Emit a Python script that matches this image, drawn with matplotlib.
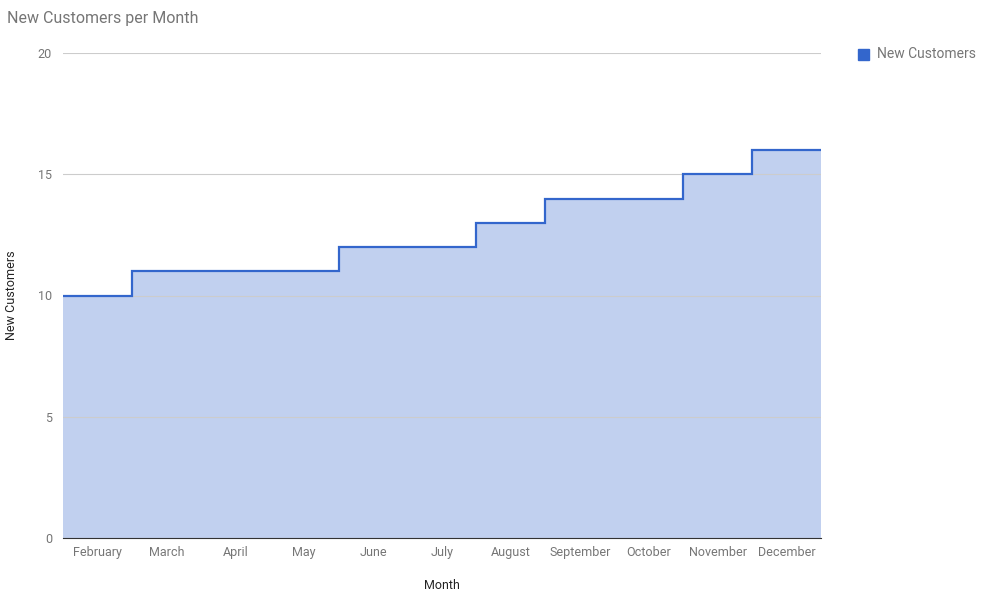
import numpy as np
import matplotlib.pyplot as plt

plt.rcParams['font.family'] = 'Roboto'

months = ['February', 'March', 'April', 'May', 'June', 'July', 'August',
          'September', 'October', 'November', 'December']
new_customers = [10, 11, 11, 11, 12, 12, 13, 14, 14, 15, 16]
y_ticks = [0, 5, 10, 15, 20]

line_color = '#3366cc'
text_color = '#757575'

fig = plt.figure(figsize=(9.91, 6.02), dpi=100)
ax = fig.add_axes([63 / 991, 1 - 538 / 602, (821 - 63) / 991, (538 - 53) / 602])

edges = np.arange(len(months) + 1)
ax.stairs(new_customers, edges, fill=True, color=line_color, alpha=0.3,
          linewidth=0, zorder=1)
ax.stairs(new_customers, edges, color=line_color, linewidth=1.6,
          baseline=None, zorder=3)

ax.set_xlim(0, len(months))
ax.set_ylim(0, 20)
ax.set_xticks(np.arange(len(months)) + 0.5)
ax.set_xticklabels(months)
ax.set_yticks(y_ticks)
ax.grid(axis='y', color='#cccccc', linewidth=0.8, zorder=2)
ax.set_axisbelow(False)
for s in ['top', 'right', 'left']:
    ax.spines[s].set_visible(False)
ax.spines['bottom'].set_color('#333333')
ax.spines['bottom'].set_zorder(4)
ax.tick_params(length=0, labelsize=9, colors=text_color, pad=6)
ax.tick_params(axis='y', pad=8)

ax.set_xlabel('Month', fontsize=9, color='#222222', labelpad=14)
ax.set_ylabel('New Customers', fontsize=9, color='#222222', labelpad=14)
fig.text(7 / 991, 1 - 18 / 602, 'New Customers per Month', fontsize=11.5,
         color=text_color, va='center')

fig.patches.append(plt.Rectangle((858 / 991, 1 - 60 / 602), 11 / 991, 11 / 602,
                                 transform=fig.transFigure, color=line_color))
fig.text(877 / 991, 1 - 54 / 602, 'New Customers', fontsize=10, color=text_color,
         va='center')

fig.savefig('out.png', dpi=100)
